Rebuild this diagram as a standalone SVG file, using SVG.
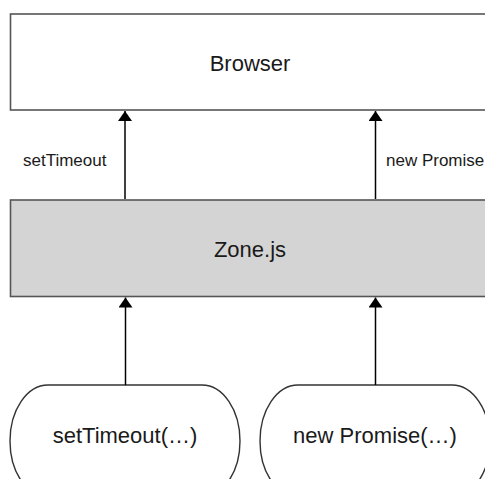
<svg xmlns="http://www.w3.org/2000/svg" width="485" height="479" viewBox="0 0 485 479">
  <style>
    .box { stroke: #555555; stroke-width: 1.6; }
    .pill { fill: #ffffff; stroke: #333333; stroke-width: 1.4; }
    .edge { fill: none; stroke: #000000; stroke-width: 1.5; }
    .big { font-family: "Liberation Sans", Arial, sans-serif; font-size: 22px; fill: #1a1a1a; text-anchor: middle; }
    .lbl { font-family: "Liberation Sans", Arial, sans-serif; font-size: 17px; fill: #1a1a1a; }
  </style>
  <defs>
    <marker id="arrow" viewBox="0 0 10 14" refX="10" refY="7" markerWidth="10" markerHeight="14" markerUnits="userSpaceOnUse" orient="auto">
      <path d="M0,0 L10,7 L0,14 Z" fill="#000000"/>
    </marker>
  </defs>
  <rect x="0" y="0" width="485" height="479" fill="#ffffff"/>

  <g id="browser">
    <rect class="box" x="10.5" y="14" width="480" height="96" fill="#ffffff"/>
    <text class="big" x="250" y="71">Browser</text>
  </g>

  <g id="zonejs">
    <rect class="box" x="10.5" y="200" width="480" height="96.5" fill="#d4d4d4"/>
    <text class="big" x="250" y="257">Zone.js</text>
  </g>

  <g id="set-timeout-call">
    <rect class="pill" x="10" y="385" width="230" height="112" rx="38" ry="56"/>
    <text class="big" x="125" y="443">setTimeout(…)</text>
  </g>

  <g id="new-promise-call">
    <rect class="pill" x="260" y="385" width="230" height="112" rx="38" ry="56"/>
    <text class="big" x="375" y="443">new Promise(…)</text>
  </g>

  <g id="connectors">
    <line class="edge" x1="125" y1="199" x2="125" y2="111" marker-end="url(#arrow)"/>
    <line class="edge" x1="375.5" y1="199" x2="375.5" y2="111" marker-end="url(#arrow)"/>
    <line class="edge" x1="125.5" y1="385" x2="125.5" y2="297.5" marker-end="url(#arrow)"/>
    <line class="edge" x1="375.5" y1="385" x2="375.5" y2="297.5" marker-end="url(#arrow)"/>
    <text class="lbl" x="23" y="166">setTimeout</text>
    <text class="lbl" x="386" y="166">new Promise</text>
  </g>
</svg>
